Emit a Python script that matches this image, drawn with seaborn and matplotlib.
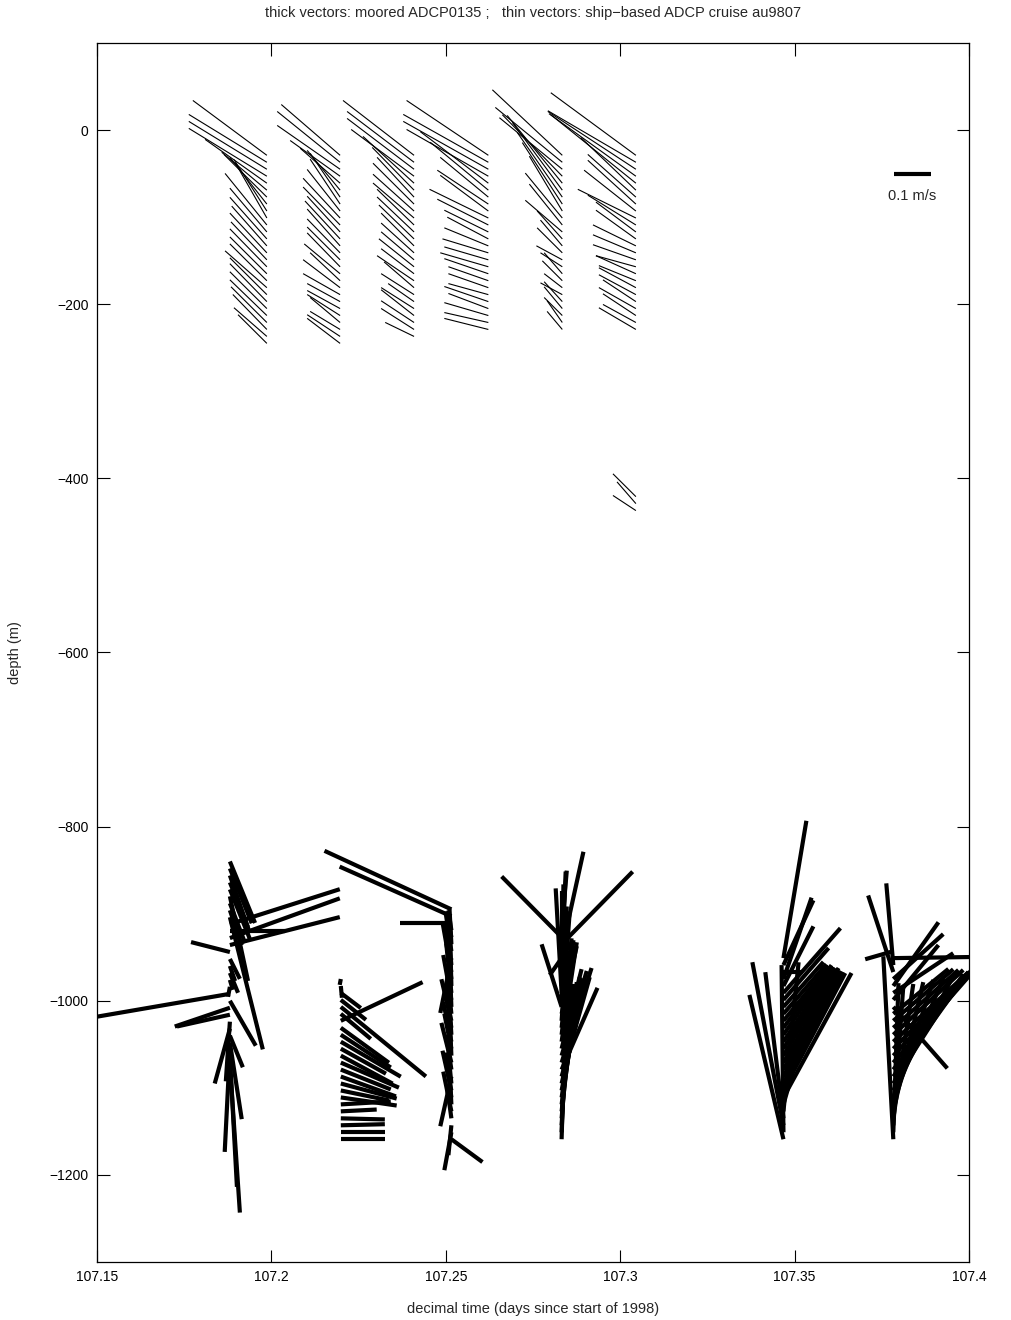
import numpy as np
import pandas as pd
import matplotlib
matplotlib.use("Agg")
import matplotlib.pyplot as plt
import seaborn as sns

nan = np.nan

# ---------------- ship-based ADCP (thin vectors), cm/s ----------------
ship_times = [107.1987, 107.2197, 107.2409, 107.2622, 107.2834, 107.3045]
ship_depths = list(range(-29, -246, -8))  # 28 bins, 8 m apart

ship_u1 = [-20.0, -21.1, -21.1, -21.1, -16.7, -12.2, -11.6, -10.0, -8.9, -8.6, -11.3, -10.0, -10.0, -9.5,
           -10.0, -9.7, -10.0, -10.0, -10.0, -11.3, -10.0, -10.0, -10.0, -10.0, -9.7, -9.2, -8.9, -7.8]
ship_v1 = [14.9, 13.0, 13.0, 13.0, 11.9, 10.3, 11.6, 12.7, 14.0, 15.1, 14.0, 11.9, 11.3, 10.8,
           10.8, 10.3, 10.3, 10.0, 10.0, 10.0, 10.0, 10.3, 10.0, 9.7, 9.7, 9.5, 7.8, 7.8]
ship_u2 = [-15.9, -17.0, -17.0, -13.5, -10.8, -8.9, -8.1, -8.1, -8.9, -10.0, -10.0, -8.9, -9.5, -8.9,
           -8.9, -8.9, -8.9, -9.7, -8.1, -10.0, -10.0, -8.9, -8.9, -8.9, -8.1, -8.1, -8.9, -8.9]
ship_v2 = [13.8, 13.8, 11.9, 9.7, 9.5, 10.8, 11.9, 12.2, 11.3, 10.8, 10.3, 9.7, 10.3, 10.0,
           9.2, 8.9, 9.2, 8.1, 7.6, 7.6, 5.7, 4.9, 4.9, 5.7, 6.8, 4.9, 5.9, 6.8]
ship_u3 = [-19.2, -18.1, -18.1, -17.0, -13.8, -11.3, -10.0, -11.1, -11.1, -11.1, -10.0, -10.0, -9.5, -8.9,
           -8.9, -8.9, -9.5, -8.9, -10.0, -8.1, -8.9, -7.0, -8.9, -8.9, -8.9, -8.9, -7.8, nan]
ship_v3 = [14.9, 13.8, 13.8, 12.7, 12.7, 11.6, 10.8, 11.1, 10.0, 9.5, 9.7, 9.5, 9.2, 8.9,
           8.1, 7.6, 7.6, 6.8, 6.8, 7.0, 5.7, 4.9, 5.7, 7.0, 5.9, 5.7, 3.8, nan]
ship_u4 = [-22.1, -23.0, -23.0, -22.1, -18.4, -15.7, -13.0, -13.8, -13.0, -15.9, -13.8, -11.9, -11.1, -11.9,
           -12.4, -11.9, -13.0, -11.9, -10.8, -10.8, -10.8, -11.9, -10.8, -11.9, -11.9, -11.9, nan, nan]
ship_v4 = [14.9, 13.0, 13.0, 12.7, 14.0, 13.0, 10.8, 9.2, 9.7, 7.8, 7.0, 5.9, 5.9, 4.9,
           3.8, 3.5, 3.8, 4.1, 3.8, 3.8, 3.0, 4.1, 4.1, 3.5, 2.7, 3.0, nan, nan]
ship_u5 = [-18.9, -18.1, -17.0, -16.2, -14.9, -13.5, -12.2, -10.8, -8.9, -10.0, -8.9, -10.0, -6.8, -5.9,
           -6.8, -7.0, -5.9, -4.9, -5.4, -4.9, -5.9, -4.9, -4.9, -4.9, -4.1, -4.1, nan, nan]
ship_v5 = [17.8, 14.9, 14.0, 16.7, 18.4, 18.4, 17.6, 16.7, 14.9, 12.2, 11.1, 8.6, 7.6, 7.0,
           6.8, 3.8, 3.8, 5.7, 5.4, 3.8, 3.2, 5.4, 5.9, 4.9, 5.9, 4.9, nan, nan]
ship_u6 = [-23.0, -23.8, -23.8, -23.5, -23.0, -14.9, -13.0, -13.0, -14.0, -15.7, -13.0, -10.8, -10.8, -11.6,
           -11.6, -11.6, -10.8, -10.8, -10.0, -10.0, -10.0, -8.9, -10.0, -8.9, -8.9, -10.0, nan, nan]
ship_v6 = [17.0, 14.0, 15.7, 17.0, 18.6, 14.3, 11.6, 11.9, 11.1, 7.8, 8.1, 8.1, 7.8, 5.7,
           4.9, 4.1, 3.0, 4.9, 4.1, 5.4, 5.4, 5.9, 5.7, 5.9, 4.9, 5.9, nan, nan]
# isolated deep bins of the last ship profile
ship_deep_depths = [-421, -429, -437]
ship_deep_u = [-6.2, -5.1, -6.2]
ship_deep_v = [6.2, 5.9, 4.1]

# ---------------- moored ADCP0135 (thick vectors), cm/s ----------------
moor_times = [107.1881, 107.2199, 107.2516, 107.2832, 107.3468, 107.3783]
moor_depths1 = list(range(-840, -1073, -8))
moor_depths2 = list(range(-1159, -974, 8))
moor_depths3 = list(range(-1159, -894, 8))
moor_depths4 = list(range(-1159, -918, 8))
moor_depths5 = list(range(-1159, -950, 8))
moor_depths6 = list(range(-1159, -942, 8))

moor_u1 = [6.8, 5.9, 5.4, 4.9, 5.4, 4.9, 4.1, 3.2, 8.9, 29.7, 14.9, 29.7, 29.7, -10.5, 2.7,
           1.4, 2.2, 0.8, -0.5, -40.5, 7.0, -14.9, -14.3, -1.1, -4.1, 3.5, 3.2, -1.4, 1.9, 2.7]
moor_v1 = [-16.7, -14.9, -15.7, -12.2, -13.5, -23.0, -10.8, -9.5, -35.9, 9.5, 0.0, 10.8, 7.6, 2.7, -5.4,
           -4.1, -5.4, -2.7, -2.7, -7.0, -12.2, -5.1, -3.2, -16.2, -14.9, -8.6, -20.8, -27.8, -35.4, -40.5]
moor_u2 = [11.9, 11.9, 11.9, 11.9, 9.7, 13.5, 15.1, 13.0, 15.1, 14.9, 13.5, 15.7, 14.0, 12.2,
           16.2, 13.5, 13.0, 22.1, 8.1, 23.0, 6.8, 5.4, 0.3, -0.3]
moor_v2 = [0.0, 0.0, 0.3, -0.3, 0.5, 0.8, -2.2, -2.7, -4.1, -5.4, -5.4, -6.8, -7.6, -6.8,
           -9.5, -8.9, -9.5, 10.5, -6.8, -18.9, -5.4, -4.1, -3.2, -1.6]
moor_u3 = [8.4, -1.9, -0.8, -1.1, -2.2, -0.5, -1.6, -2.4, -0.8, -3.0, -1.4, -2.7, -0.5, -1.9, -2.2, -0.8, -1.6,
           -2.7, -1.1, -0.5, -2.2, -1.4, -0.3, -1.9, -2.4, -1.1, -3.0, -1.6, -0.5, -1.1, -0.8, -14.0, -30.2, -34.3]
moor_v3 = [-6.2, -10.3, -8.1, 8.1, 10.8, 9.5, 12.2, 10.8, 8.1, -13.5, 9.5, 10.8, 12.2, 9.5, 10.8, 12.2, 10.3,
           11.3, 10.8, 13.0, 12.2, 13.5, 12.2, 14.9, 13.5, 12.2, -14.9, 10.8, 9.5, 6.8, 5.4, 0.0, 13.5, 15.9]
moor_u4 = [1.1, 1.6, 2.2, 3.2, 4.1, 4.9, 5.4, 5.9, 6.8, 7.6, 9.7, 8.1, 6.8, 5.4, 4.1, 3.2,
           2.7, 2.2, 4.1, -5.4, 0.0, -1.6, 1.4, 0.5, 1.1, 0.8, -3.2, 5.9, 19.2, -16.2, 1.4]
moor_v4 = [37.8, 37.8, 37.3, 36.5, 35.1, 34.6, 32.4, 29.7, 28.4, 27.0, 22.2, 25.7, 23.0, 21.6, 27.0, 25.7,
           24.3, 29.7, 18.4, 17.0, 29.7, 28.4, 21.6, 25.7, 27.3, 20.3, -4.6, 27.0, 19.7, 16.5, 16.2]
moor_u5 = [-9.2, -0.5, -8.4, -4.9, 4.1, 10.8, 18.4, 16.7, 16.2, 15.7, 15.1, 14.9, 14.0, 13.5,
           13.5, 13.0, 12.2, 12.2, 11.6, 10.8, 12.2, 15.4, 8.1, 7.6, 5.4, 8.1, 6.2]
moor_v5 = [39.2, 45.4, 44.3, 39.7, 40.5, 37.8, 33.8, 31.9, 30.2, 28.6, 27.0, 25.7, 23.8, 22.1,
           20.3, 18.9, 16.7, 14.9, 13.5, 12.2, 14.1, 17.6, 16.2, 22.1, 0.0, 17.6, 37.3]
moor_u6 = [-2.7, 1.4, 2.7, 5.4, 8.1, 10.8, 13.5, 16.2, 18.9, 20.3, 21.1, 21.6, 21.6, 21.1,
           20.3, 18.9, 17.6, 16.2, 14.9, 14.6, 12.2, 16.2, 12.2, 13.5, -6.8, -1.9, 21.1, -7.6]
moor_v6 = [49.7, 40.5, 37.8, 36.5, 35.1, 33.8, 32.4, 31.1, 29.7, 28.4, 27.0, 24.8, 23.0, 21.1,
           18.9, 17.6, 15.7, 14.0, 12.2, -16.7, 14.9, 10.8, 17.3, 12.2, 20.8, 22.2, 0.3, -2.2]

x_ticks = [107.15, 107.2, 107.25, 107.3, 107.35, 107.4]
x_tick_labels = ["107.15", "107.2", "107.25", "107.3", "107.35", "107.4"]
y_ticks = [-1200, -1000, -800, -600, -400, -200, 0]
y_tick_labels = ["\u22121200", "\u22121000", "\u2212800", "\u2212600", "\u2212400", "\u2212200", "0"]

# ---------------- drawing scale ----------------
KX = 0.0010608   # days per cm/s on the time axis
KZ = 4.2286      # metres per cm/s on the depth axis


def stick_rows(t0, depths, u, v, tag):
    rows = []
    for i, (z, uu, vv) in enumerate(zip(depths, u, v)):
        if np.isnan(uu) or np.isnan(vv):
            continue
        key = f"{tag}_{i:03d}"
        rows.append({"t": t0, "z": z, "seg": key})
        rows.append({"t": t0 + uu * KX, "z": z + vv * KZ, "seg": key})
    return rows


thin_rows = []
ship_u = [ship_u1, ship_u2, ship_u3, ship_u4, ship_u5, ship_u6]
ship_v = [ship_v1, ship_v2, ship_v3, ship_v4, ship_v5, ship_v6]
for j, t0 in enumerate(ship_times):
    thin_rows += stick_rows(t0, ship_depths, ship_u[j], ship_v[j], f"s{j}")
thin_rows += stick_rows(ship_times[-1], ship_deep_depths, ship_deep_u, ship_deep_v, "sdeep")
thin_df = pd.DataFrame(thin_rows)

thick_rows = []
moor_d = [moor_depths1, moor_depths2, moor_depths3, moor_depths4, moor_depths5, moor_depths6]
moor_u = [moor_u1, moor_u2, moor_u3, moor_u4, moor_u5, moor_u6]
moor_v = [moor_v1, moor_v2, moor_v3, moor_v4, moor_v5, moor_v6]
for j, t0 in enumerate(moor_times):
    thick_rows += stick_rows(t0, moor_d[j], moor_u[j], moor_v[j], f"m{j}")
thick_df = pd.DataFrame(thick_rows)

# ---------------- figure ----------------
sns.set_theme(style="ticks")
plt.rcParams["font.family"] = ["Liberation Sans", "DejaVu Sans"]
plt.rcParams["lines.solid_capstyle"] = "butt"
plt.rcParams["xtick.direction"] = "in"
plt.rcParams["ytick.direction"] = "in"

fig = plt.figure(figsize=(10.12, 13.20), dpi=100)
ax = fig.add_axes([97 / 1012, 1 - 1262 / 1320, (969 - 97) / 1012, (1262 - 43) / 1320])

sns.lineplot(data=thin_df, x="t", y="z", units="seg", estimator=None, sort=False,
             color="black", linewidth=0.8, ax=ax, legend=False)
sns.lineplot(data=thick_df, x="t", y="z", units="seg", estimator=None, sort=False,
             color="black", linewidth=3.0, ax=ax, legend=False)

# scale vector: 0.1 m/s
bar_t = [107.3785, 107.3785 + 10 * KX]
bar_z = [-51, -51]
ax.plot(bar_t, bar_z, color="black", linewidth=3.0, solid_capstyle="butt")
ax.text(sum(bar_t) / 2, -76, "0.1 m/s", ha="center", va="center", fontsize=10.5)

ax.set_xlim(107.15, 107.4)
ax.set_ylim(-1300, 100)
ax.set_xticks(x_ticks)
ax.set_xticklabels(x_tick_labels)
ax.set_yticks(y_ticks)
ax.set_yticklabels(y_tick_labels)
ax.tick_params(axis="both", which="major", direction="in", length=9, width=0.8,
               labelsize=10, top=True, right=True, pad=6, colors="black")
for s in ax.spines.values():
    s.set_visible(True)
    s.set_linewidth(0.9)
    s.set_color("black")

ax.set_xlabel("decimal time (days since start of 1998)", fontsize=10.5, labelpad=13)
ax.set_ylabel("depth (m)", fontsize=10.5, labelpad=20)
ax.set_title("thick vectors: moored ADCP0135 ;   thin vectors: ship\u2212based ADCP cruise au9807",
             fontsize=10.5, pad=19)

fig.savefig("out.png", dpi=100, facecolor="white")
